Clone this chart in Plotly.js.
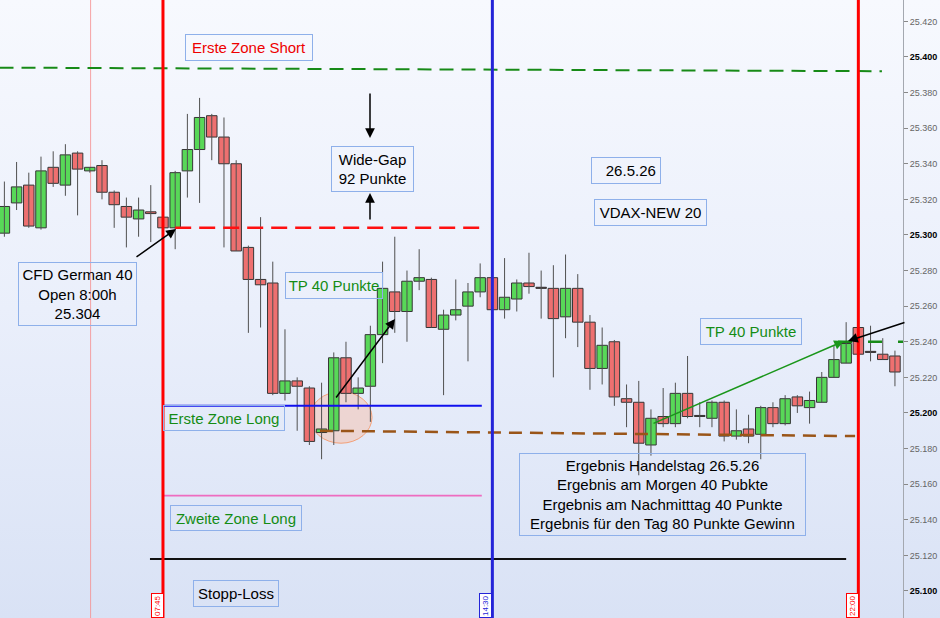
<!DOCTYPE html>
<html>
<head>
<meta charset="utf-8">
<script src="https://cdn.plot.ly/plotly-3.0.1.min.js"></script>
<style>
  html, body { margin:0; padding:0; background:#ffffff; }
  #chart { width:940px; height:618px; background: linear-gradient(to bottom, #f7f9fe 0%, #eaeffb 50%, #d9e2f5 100%); }
</style>
</head>
<body>
<div id="chart"></div>
<script>
// ---------- DATA ----------
const DAY = '2026-05-26';
const times = ['04:30','04:45','05:00','05:15','05:30','05:45','06:00','06:15','06:30','06:45',
               '07:00','07:15','07:30','07:45','08:00','08:15','08:30','08:45','09:00','09:15',
               '09:30','09:45','10:00','10:15','10:30','10:45','11:00','11:15','11:30','11:45',
               '12:00','12:15','12:30','12:45','13:00','13:15','13:30','13:45','14:00','14:15',
               '14:30','14:45','15:00','15:15','15:30','15:45','16:00','16:15','16:30','16:45',
               '17:00','17:15','17:30','17:45','18:00','18:15','18:30','18:45','19:00','19:15',
               '19:30','19:45','20:00','20:15','20:30','20:45','21:00','21:15','21:30','21:45',
               '22:00','22:15','22:30','22:45'];
const open  = [25301,25318,25328,25304,25338,25328,25346,25336,25339,25324,
               25316,25309,25313,25310,25304,25336,25348,25367,25355,25340,
               25293,25275,25273,25211,25218,25214,25189,25190,25231,25211,
               25215,25244,25268,25257,25274,25275,25247,25255,25260,25268,
               25276,25258,25264,25273,25270,25270,25254,25270,25251,25225,
               25240,25208,25206,25182,25198,25194,25211,25198,25197,25206,
               25187,25191,25188,25203,25194,25209,25203,25206,25220,25228,
               25248,25234,25233,25232];
const high  = [25330,25341,25335,25344,25347,25351,25347,25338,25342,25325,
               25321,25321,25328,25311,25336,25368,25377,25368,25366,25342,
               25294,25310,25285,25247,25220,25215,25217,25234,25240,25220,
               25249,25285,25299,25280,25292,25276,25258,25275,25273,25284,
               25277,25287,25275,25290,25280,25283,25289,25278,25255,25248,
               25241,25216,25218,25202,25214,25217,25232,25206,25207,25207,
               25202,25199,25204,25206,25210,25210,25212,25223,25238,25251,
               25251,25249,25242,25235];
const low   = [25299,25314,25304,25303,25327,25322,25311,25335,25320,25304,
               25293,25299,25296,25298,25292,25321,25318,25342,25293,25291,
               25245,25248,25210,25207,25190,25182,25174,25182,25206,25202,
               25195,25228,25245,25240,25269,25248,25210,25252,25229,25265,
               25258,25253,25257,25267,25253,25220,25242,25237,25213,25216,
               25204,25192,25165,25176,25192,25192,25197,25192,25192,25184,
               25185,25183,25174,25192,25193,25200,25194,25206,25220,25228,
               25232,25229,25230,25215];
const close = [25316,25327,25305,25336,25329,25345,25337,25338,25324,25317,
               25310,25314,25312,25304,25335,25348,25366,25355,25340,25291,
               25275,25272,25211,25218,25215,25184,25191,25231,25211,25214,
               25244,25270,25257,25274,25276,25248,25255,25258,25268,25276,
               25258,25265,25273,25271,25270,25253,25270,25251,25225,25238,
               25209,25206,25183,25197,25194,25211,25198,25198,25206,25187,
               25190,25187,25203,25194,25208,25204,25207,25220,25230,25239,
               25233,25234,25230,25223];

// price axis ticks
const tickVals = [25100,25120,25140,25160,25180,25200,25220,25240,25260,25280,
                  25300,25320,25340,25360,25380,25400,25420];
const tickLabels = ['25.100','25.120','25.140','25.160','25.180','25.200','25.220','25.240','25.260','25.280',
                    '25.300','25.320','25.340','25.360','25.380','25.400','25.420'];

// session markers (vertical lines)
const markerTimes = ['07:45','14:30','22:00'];
const markerLabels = ['07:45','14:30','22:00'];
const dayLineTime = ['06:16'];

// horizontal levels: zone short, open, zone long 1, entry/stop, zone long 2, stop loss, TP
const levelFrom  = ['04:24','08:00','07:45','10:58','07:45','07:29','21:35'];
const levelTo    = ['22:29','14:17','14:17','21:56','14:17','21:45','22:55'];
const levelStart = [25394, 25304, 25204, 25190, 25153.5, 25118, 25240];
const levelEnd   = [25392, 25304, 25204, 25187, 25153.5, 25118, 25240];

// highlighted zone (ellipse): time from/to, price low/high
const highlightTime  = ['10:45:45','12:02:00'];
const highlightPrice = [25183, 25212];

// ---------- HELPERS ----------
const T = t => DAY + ' ' + t;
const PW = 903, PH = 618;
const xp = px => px / PW;
const yp = py => 1 - py / PH;
const FONT = '"Liberation Sans", Arial, sans-serif';
const GREEN = '#148c14', RED = '#ee0000', BOXB = '#8eb0ea';
const FS = 15;

function box(text, cx, cy, w, h, color, align) {
  return { xref:'paper', yref:'paper', x:xp(cx), y:yp(cy), xanchor:'center', yanchor:'middle',
    text:text, showarrow:false, align:align || 'center', valign:'middle',
    font:{family:FONT, size:FS, color:color},
    bordercolor:BOXB, borderwidth:1, borderpad:0, bgcolor:'rgba(0,0,0,0)',
    width:w - 2, height:h - 2 };
}
function arrow(hx, hy, tx, ty, color) {
  return { xref:'paper', yref:'paper', x:xp(hx), y:yp(hy), ax:tx - hx, ay:ty - hy,
    text:'', showarrow:true, arrowhead:2, arrowsize:1.3, arrowwidth:1.5, arrowcolor:color };
}
function timeTag(text, cx, color) {
  return { xref:'paper', yref:'paper', x:xp(cx), y:yp(606), xanchor:'center', yanchor:'middle',
    text:text, textangle:-90, showarrow:false, font:{family:FONT, size:8, color:color},
    bordercolor:color, borderwidth:1, borderpad:1, bgcolor:'#ffffff' };
}

// ---------- TRACES (candles built from OHLC arrays) ----------
const xs = times.map(T);
const wickX = [], wickY = [];
xs.forEach((x, i) => { wickX.push(x, x, null); wickY.push(low[i], high[i], null); });
const wicks = { type:'scatter', mode:'lines', x:wickX, y:wickY, hoverinfo:'skip',
  line:{color:'#505050', width:1}, showlegend:false };

const bodyBase = open.map((o, i) => Math.min(o, close[i]));
const bodyLen  = open.map((o, i) => Math.max(Math.abs(close[i] - o), 0.6));
const bodyCol  = open.map((o, i) => close[i] > o ? '#58d858' : (close[i] < o ? '#ee7070' : '#5a2020'));
const bodies = { type:'bar', x:xs, base:bodyBase, y:bodyLen, width:15 * 60 * 1000 * 0.86,
  marker:{color:bodyCol, line:{color:'#353535', width:1}}, hoverinfo:'skip', showlegend:false };

// ---------- SHAPES ----------
const shapes = [];
shapes.push({type:'circle', xref:'x', yref:'y', layer:'below',
  x0:T(highlightTime[0]), x1:T(highlightTime[1]), y0:highlightPrice[0], y1:highlightPrice[1],
  fillcolor:'rgba(252,178,148,0.38)', line:{color:'#f3a078', width:1}});
shapes.push({type:'line', xref:'x', yref:'paper', layer:'below', x0:T(dayLineTime[0]), x1:T(dayLineTime[0]),
  y0:0, y1:1, line:{color:'rgba(245,140,140,0.8)', width:1}});
const levelStyle = [
  {color:'#178a17', width:2, dash:'14px,8px'},
  {color:'#ff1010', width:2.5, dash:'16px,8px'},
  {color:'#1010ee', width:2, dash:'solid'},
  {color:'#9a5518', width:2.5, dash:'13px,8px'},
  {color:'#ee6cc0', width:1.8, dash:'solid'},
  {color:'#111111', width:2, dash:'solid'},
  {color:'#178a17', width:2.5, dash:'14px,16px'}
];
for (let i = 0; i < levelFrom.length; i++) {
  shapes.push({type:'line', xref:'x', yref:'y', layer:'above',
    x0:T(levelFrom[i]), x1:T(levelTo[i]), y0:levelStart[i], y1:levelEnd[i], line:levelStyle[i]});
}
const markerColors = ['#ff0000','#2424d8','#ff0000'];
markerTimes.forEach((t, i) => {
  shapes.push({type:'line', xref:'x', yref:'paper', layer:'above', x0:T(t), x1:T(t), y0:0, y1:1,
    line:{color:markerColors[i], width:3}});
});

// ---------- ANNOTATIONS ----------
const annotations = [
  box('Erste Zone Short', 249, 47.5, 128, 27, RED),
  box('Wide-Gap<br>92 Punkte', 372.5, 169, 83, 46, '#000'),
  box('26.5.26 ', 626, 170.5, 70, 27, '#000', 'right'),
  box('VDAX-NEW 20', 650.5, 212.5, 113, 27, '#000'),
  box('CFD German 40<br>Open 8:00h<br>25.304', 77.5, 294, 119, 64, '#000'),
  box('TP 40 Punkte', 334, 285.5, 98, 27, GREEN),
  box('TP 40 Punkte', 751, 331.5, 102, 27, GREEN),
  box('Erste Zone Long', 224, 418, 122, 26, GREEN),
  box('Zweite Zone Long', 236, 518, 132, 26, GREEN),
  box('Stopp-Loss', 236, 593.5, 86, 27, '#000'),
  box('Ergebnis Handelstag 26.5.26<br>Ergebnis am Morgen 40 Pubkte<br>Ergebnis am Nachmitttag 40 Punkte<br>Ergebnis für den Tag 80 Punkte Gewinn',
      662.5, 494.5, 287, 83, '#000'),
  arrow(176, 229, 135, 258, '#000'),
  arrow(370, 138, 370, 92, '#000'),
  arrow(370, 193, 370, 221, '#000'),
  arrow(395, 319, 335, 399, '#000'),
  arrow(844, 341, 652, 424, '#1a961a'),
  arrow(848, 341, 906, 322, '#000'),
  timeTag(markerLabels[0], 157, '#ff0000'),
  timeTag(markerLabels[1], 485, '#2424d8'),
  timeTag(markerLabels[2], 852, '#ff0000')
];

const tickText = tickVals.map((v, i) => (v % 100 === 0)
  ? '<span style="color:#000"><b>' + tickLabels[i] + '</b></span>' : tickLabels[i]);

const layout = {
  width:940, height:618,
  margin:{l:0, r:37, t:0, b:0, pad:0},
  paper_bgcolor:'rgba(0,0,0,0)', plot_bgcolor:'rgba(0,0,0,0)',
  showlegend:false, dragmode:false, barmode:'overlay',
  font:{family:FONT},
  xaxis:{type:'date', range:[T('04:24:36'), T('22:54:54')], visible:false,
         showgrid:false, zeroline:false, fixedrange:true},
  yaxis:{side:'right', range:[25084.8, 25432], tickvals:tickVals, ticktext:tickText,
         tickfont:{family:FONT, size:9, color:'#666'}, ticks:'outside', ticklen:4, tickcolor:'#888',
         showline:true, linecolor:'#a4a8b0', linewidth:1, showgrid:false, zeroline:false, fixedrange:true},
  shapes:shapes, annotations:annotations
};

Plotly.newPlot('chart', [wicks, bodies], layout, {displayModeBar:false, staticPlot:true});
</script>
</body>
</html>
